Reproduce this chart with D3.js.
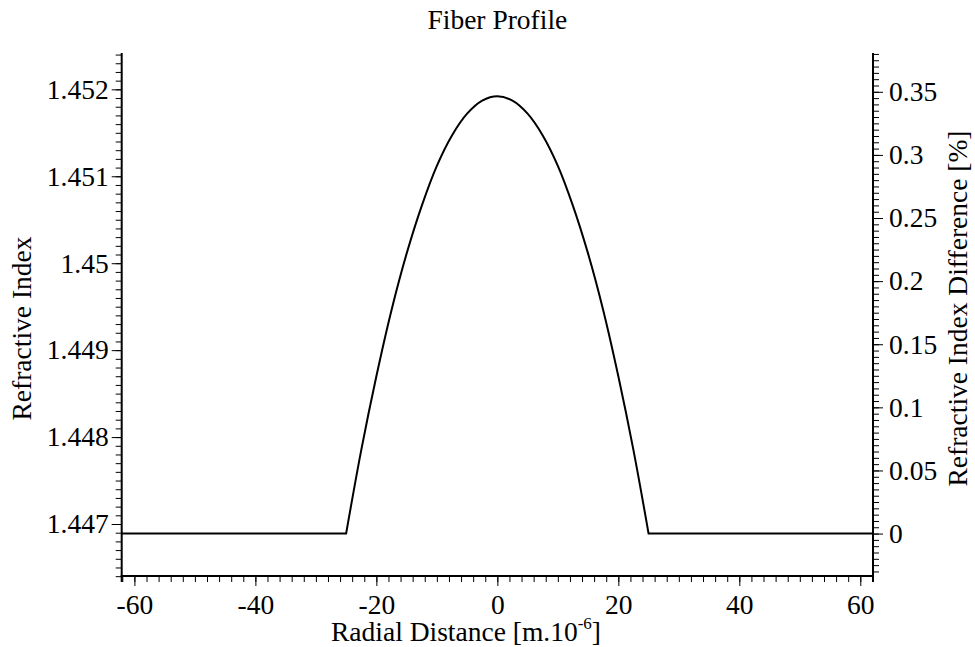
<!DOCTYPE html>
<html>
<head>
<meta charset="utf-8">
<script src="https://cdn.jsdelivr.net/npm/d3@7"></script>
<style>
  html, body { margin: 0; padding: 0; background: #fff; }
  svg text { font-family: "Liberation Serif", "Times New Roman", serif; fill: #000; }
</style>
</head>
<body>
<svg id="chart" width="975" height="647"></svg>
<script>
// Graded-index core: radial position (µm) and refractive index
const radialCore = [-25, -22.5, -20, -17.5, -15, -12.5, -10, -7.5, -5, -2.5, 0,
                    2.5, 5, 7.5, 10, 12.5, 15, 17.5, 20, 22.5, 25];
const indexCore = [1.44689, 1.44785, 1.44870, 1.44946, 1.45011, 1.45066, 1.45112, 1.45147, 1.45172, 1.45187, 1.45192,
                   1.45187, 1.45172, 1.45147, 1.45112, 1.45066, 1.45011, 1.44946, 1.44870, 1.44785, 1.44689];
// Cladding index and peak core index
const cladIndex = 1.44689;
const peakIndex = 1.45192;

// Axis extents and tick values
const radialExtent = [-62.1, 62.1];
const indexExtent = [1.446402, 1.452418];
const xTicks = [-60, -40, -20, 0, 20, 40, 60];
const xTickLabels = ["-60", "-40", "-20", "0", "20", "40", "60"];
const leftTicks = [1.447, 1.448, 1.449, 1.45, 1.451, 1.452];
const leftTickLabels = ["1.447", "1.448", "1.449", "1.45", "1.451", "1.452"];
const rightTicks = [0, 0.05, 0.1, 0.15, 0.2, 0.25, 0.3, 0.35];
const rightTickLabels = ["0", "0.05", "0.1", "0.15", "0.2", "0.25", "0.3", "0.35"];

const W = 975, H = 647;
const margin = { top: 53, right: 102, bottom: 71, left: 121.7 };
const innerW = W - margin.left - margin.right;
const innerH = H - margin.top - margin.bottom;

const svg = d3.select("#chart");
const g = svg.append("g").attr("transform", `translate(${margin.left},${margin.top})`);

const x = d3.scaleLinear().domain(radialExtent).range([0, innerW]);
const y = d3.scaleLinear().domain(indexExtent).range([innerH, 0]);
// Relative index difference in percent, tied to the index scale
const toDelta = n => (n - cladIndex) / peakIndex * 100;
const yR = d3.scaleLinear().domain(indexExtent.map(toDelta)).range([innerH, 0]);

const fontSize = 27.5;

// Minor ticks
function minorAxis(axis, values) {
  return axis.tickValues(values).tickSize(6).tickFormat("");
}
const xMinor = d3.range(-62, 62.01, 2);
const leftMinor = d3.range(14464, 14525, 1).map(v => v / 10000);
const rightMinor = d3.range(-6, 77, 1).map(v => v * 0.005);

g.append("g").attr("class", "minor").attr("transform", `translate(0,${innerH})`)
  .call(minorAxis(d3.axisBottom(x), xMinor));
g.append("g").attr("class", "minor")
  .call(minorAxis(d3.axisLeft(y), leftMinor));
g.append("g").attr("class", "minor").attr("transform", `translate(${innerW},0)`)
  .call(minorAxis(d3.axisRight(yR), rightMinor));

// Major ticks with labels
g.append("g").attr("transform", `translate(0,${innerH})`)
  .call(d3.axisBottom(x).tickValues(xTicks).tickSize(10).tickPadding(8)
    .tickFormat((d, i) => xTickLabels[i]));
g.append("g")
  .call(d3.axisLeft(y).tickValues(leftTicks).tickSize(10).tickPadding(3)
    .tickFormat((d, i) => leftTickLabels[i]));
g.append("g").attr("transform", `translate(${innerW},0)`)
  .call(d3.axisRight(yR).tickValues(rightTicks).tickSize(10).tickPadding(6)
    .tickFormat((d, i) => rightTickLabels[i]));

g.selectAll(".domain").remove();
g.selectAll(".tick line").attr("stroke", "#000").attr("stroke-width", 1);
g.selectAll(".tick text").attr("font-size", fontSize).attr("font-family", "Liberation Serif");

// Axis lines (left, bottom, right)
g.append("line").attr("x1", 0).attr("x2", 0).attr("y1", 0).attr("y2", innerH + 6)
  .attr("stroke", "#000").attr("stroke-width", 2);
g.append("line").attr("x1", innerW).attr("x2", innerW).attr("y1", 0).attr("y2", innerH + 6)
  .attr("stroke", "#000").attr("stroke-width", 2);
g.append("line").attr("x1", -1).attr("x2", innerW + 1).attr("y1", innerH).attr("y2", innerH)
  .attr("stroke", "#000").attr("stroke-width", 2);

// Profile: flat cladding on both sides, curved core in the middle
const linear = d3.line().x(d => x(d[0])).y(d => y(d[1]));
const coreLine = d3.line().x(d => x(d[0])).y(d => y(d[1])).curve(d3.curveCatmullRom.alpha(0.5));
const corePts = radialCore.map((r, i) => [r, indexCore[i]]);
const leftClad = [[radialExtent[0], cladIndex], [radialCore[0], cladIndex]];
const rightClad = [[radialCore[radialCore.length - 1], cladIndex], [radialExtent[1], cladIndex]];
const pathD = linear(leftClad) + coreLine(corePts).replace(/^M/, "L") + linear(rightClad).replace(/^M/, "L");

g.append("path").attr("d", pathD)
  .attr("fill", "none").attr("stroke", "#000").attr("stroke-width", 2)
  .attr("stroke-linejoin", "miter");

// Title
svg.append("text").attr("x", margin.left + innerW / 2).attr("y", 29)
  .attr("text-anchor", "middle").attr("font-size", fontSize).text("Fiber Profile");

// Bottom axis title with superscript exponent
const xt = svg.append("text").attr("x", 466).attr("y", 641)
  .attr("text-anchor", "middle").attr("font-size", fontSize);
xt.append("tspan").text("Radial Distance [m.10");
xt.append("tspan").attr("font-size", 17).attr("dy", -12).text("-6");
xt.append("tspan").attr("dy", 12).text("]");

// Left axis title
svg.append("text")
  .attr("transform", `translate(31,${margin.top + innerH / 2 + 14}) rotate(-90)`)
  .attr("text-anchor", "middle").attr("font-size", fontSize).text("Refractive Index");

// Right axis title
svg.append("text")
  .attr("transform", `translate(967,${margin.top + innerH / 2 - 6}) rotate(-90)`)
  .attr("text-anchor", "middle").attr("font-size", fontSize).text("Refractive Index Difference [%]");
</script>
</body>
</html>
